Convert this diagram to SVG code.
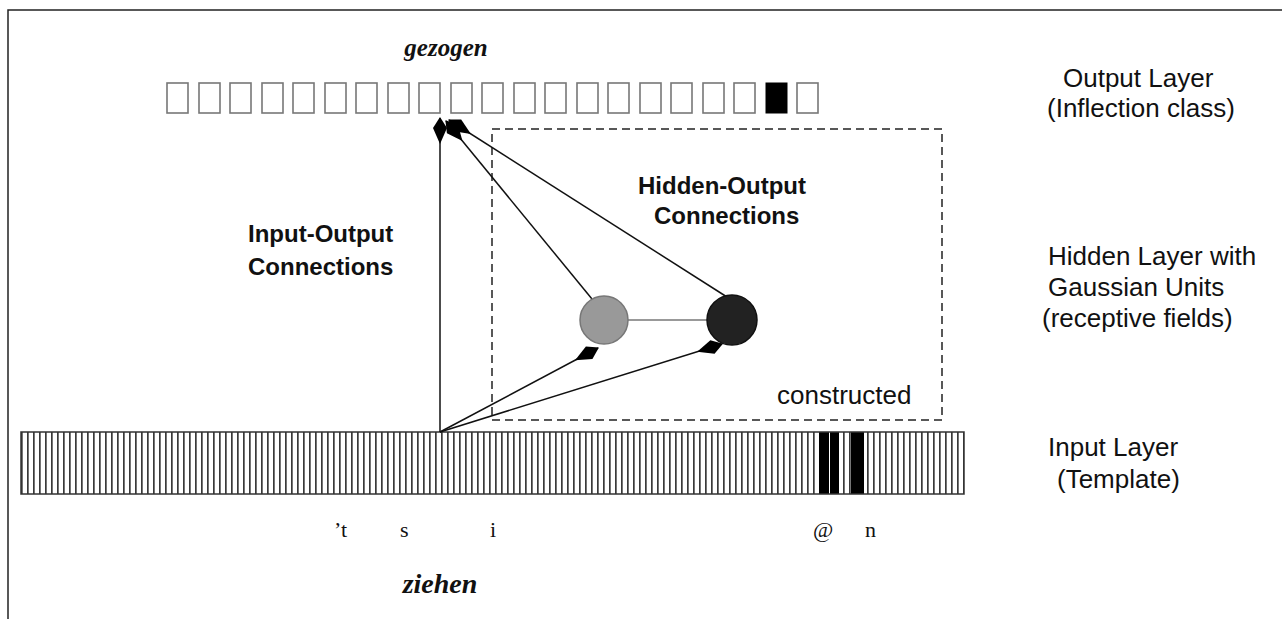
<svg xmlns="http://www.w3.org/2000/svg" width="1282" height="619" viewBox="0 0 1282 619">
<style>
.sans{font-family:"Liberation Sans",Arial,sans-serif;fill:#111}
.lbl{font-size:26px}
.bold{font-size:24px;font-weight:bold}
.serif{font-family:"Liberation Serif","Times New Roman",serif;fill:#111;font-size:22px}
.bi{font-family:"Liberation Serif","Times New Roman",serif;fill:#111;font-size:25px;font-weight:bold;font-style:italic}
.box{fill:#fff;stroke:#777;stroke-width:1.6}
.conn{stroke:#111;stroke-width:1.5;fill:none}
</style>
<defs>
<marker id="ah" markerUnits="userSpaceOnUse" orient="auto" markerWidth="40" markerHeight="40" refX="0" refY="0" overflow="visible">
<path d="M1,0 L-10,-7 L-26,0 L-10,7 Z" fill="#000"/>
</marker>
<pattern id="st" patternUnits="userSpaceOnUse" x="21" y="432" width="6" height="62">
<rect x="0" y="0" width="1.7" height="62" fill="#3a3a3a"/>
</pattern>
</defs>
<rect width="1282" height="619" fill="#fff"/>
<path d="M8,619 V10 H1282" fill="none" stroke="#222" stroke-width="1.5"/>

<g id="output-layer">
<rect class="box" x="167" y="83" width="21" height="30"/>
<rect class="box" x="199" y="83" width="21" height="30"/>
<rect class="box" x="230" y="83" width="21" height="30"/>
<rect class="box" x="262" y="83" width="21" height="30"/>
<rect class="box" x="293" y="83" width="21" height="30"/>
<rect class="box" x="325" y="83" width="21" height="30"/>
<rect class="box" x="356" y="83" width="21" height="30"/>
<rect class="box" x="388" y="83" width="21" height="30"/>
<rect class="box" x="419" y="83" width="21" height="30"/>
<rect class="box" x="451" y="83" width="21" height="30"/>
<rect class="box" x="482" y="83" width="21" height="30"/>
<rect class="box" x="514" y="83" width="21" height="30"/>
<rect class="box" x="545" y="83" width="21" height="30"/>
<rect class="box" x="577" y="83" width="21" height="30"/>
<rect class="box" x="608" y="83" width="21" height="30"/>
<rect class="box" x="640" y="83" width="21" height="30"/>
<rect class="box" x="671" y="83" width="21" height="30"/>
<rect class="box" x="703" y="83" width="21" height="30"/>
<rect class="box" x="734" y="83" width="21" height="30"/>
<rect x="766" y="83" width="21" height="30" fill="#000" stroke="#000" stroke-width="1"/>
<rect class="box" x="797" y="83" width="21" height="30"/>
<text class="bi" x="446" y="56" text-anchor="middle">gezogen</text>
</g>

<g id="input-layer">
<rect x="21" y="432" width="943" height="62" fill="url(#st)"/>
<rect x="819" y="432" width="10" height="62" fill="#000"/>
<rect x="830" y="432" width="9" height="62" fill="#000"/>
<rect x="851" y="432" width="13" height="62" fill="#000"/>
<rect x="21" y="432" width="943" height="62" fill="none" stroke="#333" stroke-width="1.5"/>
<text class="serif" x="334" y="537">’t</text>
<text class="serif" x="400" y="537">s</text>
<text class="serif" x="490" y="537">i</text>
<text class="serif" x="813" y="537">@</text>
<text class="serif" x="865" y="537">n</text>
<text class="bi" x="440" y="593" text-anchor="middle" style="font-size:28px">ziehen</text>
</g>

<g id="hidden-region">
<rect x="492" y="129" width="450" height="291" fill="none" stroke="#222" stroke-width="1.5" stroke-dasharray="8,5"/>
<text class="sans lbl" x="777" y="404">constructed</text>
</g>

<g id="connectors">
<line class="conn" x1="440" y1="432" x2="440" y2="118" marker-end="url(#ah)"/>
<line class="conn" x1="440" y1="432" x2="598" y2="348" marker-end="url(#ah)"/>
<line class="conn" x1="440" y1="432" x2="722" y2="344" marker-end="url(#ah)"/>
<line class="conn" x1="592" y1="299" x2="446" y2="121" marker-end="url(#ah)"/>
<line class="conn" x1="727" y1="297" x2="449" y2="120" marker-end="url(#ah)"/>
<line x1="628" y1="320" x2="708" y2="320" stroke="#999" stroke-width="2"/>
</g>

<g id="hidden-gray">
<circle cx="604" cy="320" r="24" fill="#999" stroke="#777" stroke-width="1.5"/>
</g>
<g id="hidden-black">
<circle cx="732" cy="320" r="25" fill="#222" stroke="#111" stroke-width="1.5"/>
</g>

<g id="labels">
<text class="sans bold" x="638" y="194">Hidden-Output</text>
<text class="sans bold" x="654" y="224">Connections</text>
<text class="sans bold" x="248" y="242">Input-Output</text>
<text class="sans bold" x="248" y="275">Connections</text>
<text class="sans lbl" x="1063" y="87">Output Layer</text>
<text class="sans lbl" x="1047" y="117">(Inflection class)</text>
<text class="sans lbl" x="1048" y="265">Hidden Layer with</text>
<text class="sans lbl" x="1048" y="296">Gaussian Units</text>
<text class="sans lbl" x="1042" y="327">(receptive fields)</text>
<text class="sans lbl" x="1048" y="456">Input Layer</text>
<text class="sans lbl" x="1057" y="488">(Template)</text>
</g>
</svg>
